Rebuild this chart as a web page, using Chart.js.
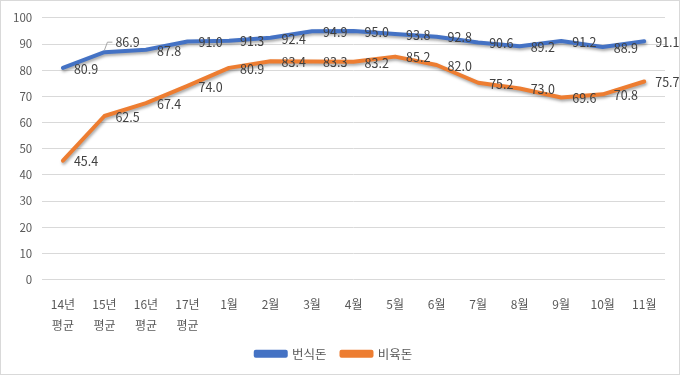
<!DOCTYPE html>
<html lang="ko">
<head>
<meta charset="utf-8">
<script src="https://cdn.jsdelivr.net/npm/chart.js@4/dist/chart.umd.min.js"></script>
<style>
  html, body { margin: 0; padding: 0; background: #fff; }
  .wrap { width: 680px; height: 375px; box-sizing: border-box; border: 1px solid #d9d9d9; position: relative; }
  canvas { display: block; }
</style>
</head>
<body>
<div class="wrap"><canvas id="chartDon" width="678" height="373"></canvas></div>
<script>
// 월별 지표 (번식돈 / 비육돈)
const categories = [
  ['14년', '평균'], ['15년', '평균'], ['16년', '평균'], ['17년', '평균'],
  '1월', '2월', '3월', '4월', '5월', '6월', '7월', '8월', '9월', '10월', '11월'
];
const seriesNames = ['번식돈', '비육돈'];
const breedingValues = [80.9, 86.9, 87.8, 91.0, 91.3, 92.4, 94.9, 95.0, 93.8, 92.8, 90.6, 89.2, 91.2, 88.9, 91.1];
const finishingValues = [45.4, 62.5, 67.4, 74.0, 80.9, 83.4, 83.3, 83.2, 85.2, 82.0, 75.2, 73.0, 69.6, 70.8, 75.7];
const yTicks = [0, 10, 20, 30, 40, 50, 60, 70, 80, 90, 100];

const BLUE = '#4472C4';
const ORANGE = '#ED7D31';
const TEXT = '#595959';
const FONT = "'Noto Sans CJK KR', 'Noto Sans', sans-serif";

// line shadow like the office chart
const lineShadow = {
  id: 'lineShadow',
  beforeDatasetDraw(chart) {
    const c = chart.ctx;
    c.save();
    c.shadowColor = 'rgba(0,0,0,0.35)';
    c.shadowBlur = 3;
    c.shadowOffsetX = 1;
    c.shadowOffsetY = 2;
  },
  afterDatasetDraw(chart) {
    chart.ctx.restore();
  }
};

// value labels to the right of each point
const valueLabels = {
  id: 'valueLabels',
  afterDatasetsDraw(chart) {
    const c = chart.ctx;
    c.save();
    c.font = '12.5px ' + FONT;
    c.fillStyle = '#404040';
    c.textBaseline = 'middle';
    c.textAlign = 'left';
    chart.data.datasets.forEach((ds, di) => {
      const meta = chart.getDatasetMeta(di);
      meta.data.forEach((pt, i) => {
        const txt = ds.data[i].toFixed(1);
        let x = pt.x + 11;
        let y = pt.y + 1;
        if (di === 0 && i === 1) {
          // label moved up with leader line
          c.strokeStyle = '#a6a6a6';
          c.lineWidth = 1;
          c.beginPath();
          c.moveTo(pt.x, pt.y - 2);
          c.lineTo(pt.x + 3, pt.y - 10);
          c.lineTo(pt.x + 8, pt.y - 10);
          c.stroke();
          x = pt.x + 11;
          y = pt.y - 10;
        }
        c.fillText(txt, x, y);
      });
    });
    c.restore();
  }
};

new Chart(document.getElementById('chartDon'), {
  type: 'line',
  data: {
    labels: categories,
    datasets: [
      {
        label: seriesNames[0],
        data: breedingValues,
        borderColor: BLUE,
        backgroundColor: BLUE,
        borderWidth: 4,
        pointRadius: 0,
        tension: 0,
        borderJoinStyle: 'round',
        borderCapStyle: 'round'
      },
      {
        label: seriesNames[1],
        data: finishingValues,
        borderColor: ORANGE,
        backgroundColor: ORANGE,
        borderWidth: 4,
        pointRadius: 0,
        tension: 0,
        borderJoinStyle: 'round',
        borderCapStyle: 'round'
      }
    ]
  },
  options: {
    responsive: false,
    animation: false,
    layout: { padding: { left: 2, right: 14, top: 8, bottom: 4 } },
    plugins: {
      tooltip: { enabled: false },
      legend: {
        position: 'bottom',
        labels: {
          boxWidth: 30,
          boxHeight: 4,
          padding: 15,
          color: TEXT,
          font: { family: FONT, size: 12.5 }
        }
      }
    },
    scales: {
      x: {
        offset: true,
        grid: { display: false, drawTicks: false },
        border: { display: false },
        afterFit(scale) { scale.height = 53; },
        ticks: {
          color: TEXT,
          padding: 14,
          maxRotation: 0,
          autoSkip: false,
          font: { family: FONT, size: 12, lineHeight: 1.8 }
        }
      },
      y: {
        min: 0,
        max: 100,
        afterBuildTicks(axis) { axis.ticks = yTicks.map(v => ({ value: v })); },
        grid: { color: '#d9d9d9', drawTicks: false },
        border: { display: false },
        ticks: {
          color: TEXT,
          padding: 10,
          font: { family: FONT, size: 11.5 }
        }
      }
    }
  },
  plugins: [lineShadow, valueLabels]
});
</script>
</body>
</html>
